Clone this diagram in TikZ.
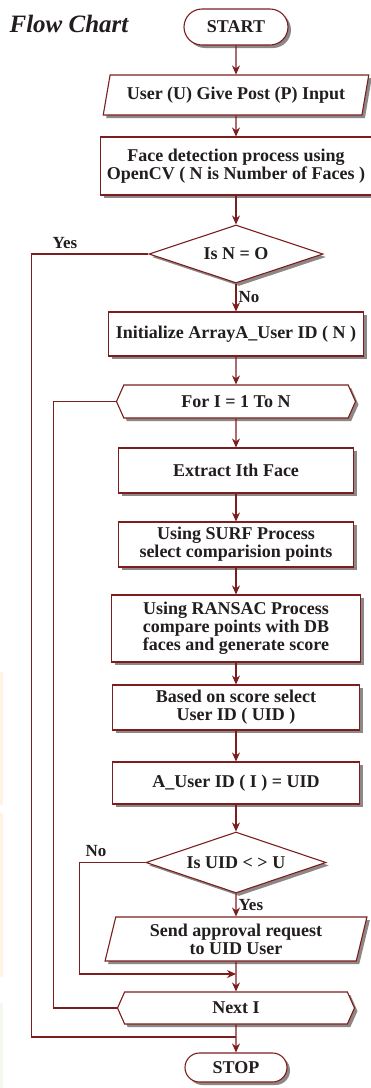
\documentclass[tikz,border=0pt]{standalone}
\usepackage{fontspec}
\setmainfont{Liberation Serif}
\usetikzlibrary{shapes.geometric,shapes.misc,shapes.symbols,arrows.meta,shadows}
\definecolor{lc}{RGB}{125,30,30}
\definecolor{sh}{RGB}{105,95,95}
\definecolor{tx}{RGB}{35,30,30}
\definecolor{peach}{RGB}{255,243,228}
\definecolor{mint}{RGB}{243,250,236}
\tikzset{
 base/.style={draw=lc, line width=1.1pt, fill=white, text=tx,
   font=\fontsize{18}{18}\selectfont\bfseries, align=center, inner sep=0pt,
   drop shadow={shadow xshift=3pt, shadow yshift=-3pt, fill=sh, opacity=0.75}},
 proc/.style={base, rectangle},
 term/.style={base, rounded rectangle},
 io/.style={base, trapezium, trapezium stretches=true, trapezium left angle=70, trapezium right angle=110},
 dec/.style={base, diamond, aspect=3},
 hexa/.style={base, signal, signal to=east and west, signal pointer angle=132},
 conn/.style={draw=lc, line width=1.1pt},
 arr/.style={conn, -{Stealth[length=9pt,width=8pt]}},
 lbl/.style={text=tx, font=\fontsize{17}{17}\selectfont\bfseries, inner sep=0pt},
}
\begin{document}
\begin{tikzpicture}[x=1pt,y=-1pt]
\fill[white] (0,0) rectangle (371,1088);
\useasboundingbox (0,0) rectangle (371,1088);
\fill[peach] (0,672) rectangle (3,805);
\fill[peach] (0,813) rectangle (3,977);
\fill[mint] (0,1003) rectangle (3,1088);

\node[text=tx, font=\fontsize{25}{25}\selectfont\bfseries\itshape] (title) at (69,24) {Flow Chart};

\node[term, minimum width=104pt, minimum height=36pt] (start) at (236,27) {START};
\node[io, minimum width=266pt, minimum height=40pt] (inp) at (236,95) {User (U) Give Post (P) Input};
\node[proc, minimum width=271pt, minimum height=58pt] (face) at (236,166) {Face detection process using\\OpenCV ( N is Number of Faces )};
\node[dec, minimum width=174pt, minimum height=58pt] (d1) at (236,254) {Is N = O};
\node[proc, minimum width=255pt, minimum height=44pt] (init) at (236,334) {Initialize ArrayA\_User ID ( N )};
\node[hexa, minimum width=239pt, minimum height=33pt] (for) at (236,401.5) {For I = 1 To N};
\node[proc, minimum width=235pt, minimum height=45pt] (ext) at (236,470.5) {Extract Ith Face};
\node[proc, minimum width=235pt, minimum height=45pt] (surf) at (236,544.5) {Using SURF Process\\select comparision points};
\node[proc, minimum width=249pt, minimum height=67pt] (ran) at (236,628.5) {Using RANSAC Process\\compare points with DB\\faces and generate score};
\node[proc, minimum width=247pt, minimum height=45pt] (based) at (236,707.5) {Based on score select\\User ID ( UID )};
\node[proc, minimum width=247pt, minimum height=42pt] (auid) at (236,783) {A\_User ID ( I ) = UID};
\node[dec, minimum width=180pt, minimum height=61pt] (d2) at (236,862.5) {Is UID < > U};
\node[io, trapezium left angle=76, trapezium right angle=104, minimum width=262pt, minimum height=44pt] (send) at (236,939) {Send approval request\\to UID User};
\node[hexa, minimum width=237pt, minimum height=32pt] (next) at (236,1008) {Next I};
\node[term, minimum width=102pt, minimum height=29pt] (stop) at (236,1067.5) {STOP};

\coordinate (nj) at (236,974);
\coordinate (yj) at (236,1037);

\draw[arr] (start) -- (inp);
\draw[arr] (inp) -- (face);
\draw[arr] (face) -- (d1);
\draw[arr] (d1) -- node[lbl, anchor=west, xshift=2pt] {No} (init);
\draw[arr] (init) -- (for);
\draw[arr] (for) -- (ext);
\draw[arr] (ext) -- (surf);
\draw[arr] (surf) -- (ran);
\draw[arr] (ran) -- (based);
\draw[arr] (based) -- (auid);
\draw[arr] (auid) -- (d2);
\draw[arr] (d2) -- node[lbl, anchor=west, xshift=2pt] {Yes} (send);
\draw[arr] (send) -- (next);
\draw[arr] (next) -- (stop);

\draw[conn] (d1.west) -- ++(-117,0) |- (yj);
\draw[conn] (for.west) -- ++(-62,0) |- (next.west);
\draw[arr] (d2.west) -- ++(-66,0) |- (nj);

\node[lbl] (yeslbl) at (65,243) {Yes};
\node[lbl] (nolbl) at (96,851) {No};
\end{tikzpicture}
\end{document}
